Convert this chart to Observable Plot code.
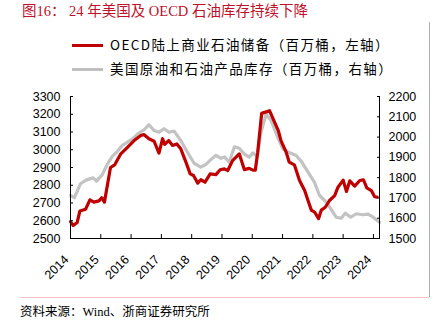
<!DOCTYPE html>
<html><head><meta charset="utf-8">
<script src="https://cdn.jsdelivr.net/npm/d3@7"></script>
<script src="https://cdn.jsdelivr.net/npm/@observablehq/plot@0.6"></script>
<style>
body{margin:0;background:#fff;}
#wrap{position:relative;width:434px;height:325px;overflow:hidden;font-family:"Liberation Sans",Arial,sans-serif;}
#title{position:absolute;left:22px;top:1px;font-family:"Liberation Serif","Noto Sans CJK SC",serif;font-size:14.5px;color:#c0102a;white-space:pre;line-height:20px;}
.leg{position:absolute;left:72px;font-family:"Noto Sans CJK SC",sans-serif;font-size:13.5px;letter-spacing:1.4px;color:#000;white-space:nowrap;line-height:16px;}
.leg span.sw{display:inline-block;width:31px;height:3.5px;vertical-align:middle;margin-right:7px;position:relative;top:-1px;}
#chart{position:absolute;left:0;top:80px;}
#rule{position:absolute;left:20px;top:297px;width:409px;height:1px;background:#f2c4c4;}
#border{position:absolute;left:429px;top:22px;width:1px;height:275px;background:#b0b0b0;}
#src{position:absolute;left:20px;top:303px;font-family:"Liberation Serif","Noto Sans CJK SC",serif;font-size:12.5px;color:#000;white-space:nowrap;line-height:18px;}
</style></head><body>
<div id="wrap">
<div id="title">图16： 24 年美国及 OECD 石油库存持续下降</div>
<div class="leg" style="top:36px;"><span class="sw" style="background:#c00000"></span>OECD陆上商业石油储备（百万桶，左轴）</div>
<div class="leg" style="top:60px;"><span class="sw" style="background:#c0c0c0"></span>美国原油和石油产品库存（百万桶，右轴）</div>
<div id="chart"></div>
<div id="border"></div>
<div id="rule"></div>
<div id="src">资料来源：Wind、浙商证券研究所</div>
</div>
<script>
// OECD commercial stocks (left axis), time in decimal years
const oecdTime = [2014.00,2014.09,2014.22,2014.31,2014.50,2014.64,2014.77,2014.94,2015.03,2015.12,2015.32,2015.46,2015.66,2015.88,2016.10,2016.32,2016.43,2016.59,2016.76,2016.92,2017.04,2017.11,2017.24,2017.37,2017.51,2017.64,2017.81,2017.95,2018.06,2018.20,2018.30,2018.44,2018.61,2018.80,2018.94,2019.08,2019.19,2019.35,2019.57,2019.74,2019.90,2020.02,2020.10,2020.18,2020.31,2020.57,2020.71,2020.86,2020.95,2021.12,2021.22,2021.39,2021.56,2021.73,2021.84,2021.95,2022.06,2022.19,2022.28,2022.41,2022.55,2022.72,2022.83,2023.00,2023.11,2023.22,2023.38,2023.55,2023.67,2023.78,2023.93,2024.04,2024.12];
const oecdStocks = [2595,2573,2590,2655,2665,2718,2705,2712,2730,2705,2900,2915,2977,3014,3052,3080,3085,3062,3048,2981,3062,3030,3052,3024,3033,3005,2930,2864,2855,2812,2831,2817,2864,2860,2887,2892,2883,2939,2977,2888,2895,2885,2885,2986,3205,3220,3165,3108,3050,2986,2930,2915,2827,2770,2714,2660,2648,2612,2660,2676,2714,2742,2789,2829,2765,2825,2795,2827,2831,2785,2770,2735,2733];
// US crude + products stocks (right axis)
const usTime = [2014.00,2014.13,2014.33,2014.53,2014.75,2014.86,2015.05,2015.22,2015.38,2015.55,2015.71,2015.88,2016.04,2016.21,2016.43,2016.59,2016.76,2016.92,2017.09,2017.25,2017.42,2017.64,2017.86,2018.08,2018.30,2018.47,2018.64,2018.80,2018.97,2019.08,2019.24,2019.41,2019.57,2019.74,2019.90,2020.02,2020.16,2020.29,2020.46,2020.62,2020.84,2021.01,2021.20,2021.45,2021.62,2021.81,2022.06,2022.22,2022.44,2022.61,2022.77,2022.94,2023.07,2023.25,2023.44,2023.66,2023.82,2023.99,2024.20];
const usStocks = [1712,1701,1770,1789,1799,1783,1815,1868,1905,1930,1959,1975,1990,2015,2036,2061,2032,2024,2041,2024,2029,1983,1925,1871,1852,1865,1890,1910,1895,1902,1876,1952,1945,1916,1901,1922,1905,2025,2113,2082,1999,1942,1925,1909,1880,1835,1775,1712,1680,1642,1605,1600,1625,1605,1622,1617,1620,1605,1580];
const years = [2014,2015,2016,2017,2018,2019,2020,2021,2022,2023,2024];
const leftTicks = [2500,2600,2700,2800,2900,3000,3100,3200,3300];
const rightTicks = [1500,1600,1700,1800,1900,2000,2100,2200];

const L0 = 2500, L1 = 3300, R0 = 1500, R1 = 2200;
const toLeft = v => L0 + (v - R0) * (L1 - L0) / (R1 - R0);
const fromLeft = v => R0 + (v - L0) * (R1 - R0) / (L1 - L0);

const oecd = oecdTime.map((t, i) => ({t, v: oecdStocks[i]}));
const us = usTime.map((t, i) => ({t, v: toLeft(usStocks[i])}));
const X0 = 2014, X1 = 2024.2;

const chart = Plot.plot({
  width: 434, height: 212,
  marginLeft: 70, marginRight: 55, marginTop: 16, marginBottom: 54,
  style: {fontFamily: "Liberation Sans, Arial, sans-serif", fontSize: "12.5px", color: "#000", background: "transparent", overflow: "visible"},
  x: {domain: [X0, X1], label: null},
  y: {domain: [L0, L1], label: null},
  marks: [
    Plot.line(us, {x: "t", y: "v", stroke: "#c3c3c3", strokeWidth: 3.2, strokeLinejoin: "round"}),
    Plot.line(oecd, {x: "t", y: "v", stroke: "#c00000", strokeWidth: 3.2, strokeLinejoin: "round"}),
    Plot.ruleX([X0], {stroke: "#000", strokeWidth: 1}),
    Plot.ruleX([X1], {stroke: "#000", strokeWidth: 1}),
    Plot.ruleY([L0], {stroke: "#000", strokeWidth: 1}),
    Plot.axisY(leftTicks, {anchor: "left", label: null, tickSize: 0, tickPadding: 10, fill: "#000", tickFormat: d => String(d)}),
    Plot.axisY(leftTicks, {anchor: "left", label: null, tickSize: 3, dx: 3, tickFormat: () => "", stroke: "#000"}),
    Plot.axisY(rightTicks.map(toLeft), {anchor: "right", label: null, tickSize: 0, tickPadding: 9, fill: "#000", tickFormat: d => String(Math.round(fromLeft(d)))}),
    Plot.axisY(rightTicks.map(toLeft), {anchor: "right", label: null, tickSize: 3, dx: -3, tickFormat: () => "", stroke: "#000"}),
    Plot.axisX(years, {anchor: "bottom", label: null, tickSize: 0, tickRotate: -45, tickPadding: 19, dx: -4, fill: "#000", tickFormat: d => String(d)}),
    Plot.axisX(years, {anchor: "bottom", label: null, tickSize: 4, dy: -4, tickFormat: () => "", stroke: "#000"})
  ]
});
document.getElementById("chart").appendChild(chart);
</script>
</body></html>
